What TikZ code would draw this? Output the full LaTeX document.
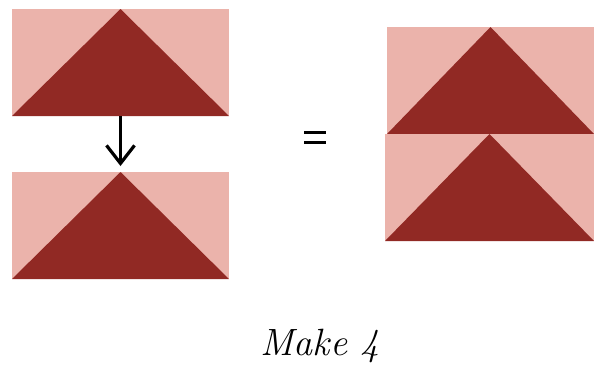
\documentclass[tikz,border=0pt]{standalone}
\usepackage{tikz}
\usetikzlibrary{arrows.meta}
\definecolor{hstdark}{RGB}{145,41,36}
\definecolor{hstlight}{RGB}{235,179,171}
\tikzset{
  hstblock/.style={rectangle,fill=hstlight,draw=none,inner sep=0pt,outer sep=0pt,
    minimum width=#1,minimum height=107pt},
  hstblock/.default=217pt,
  joinarrow/.style={line width=3.2pt,-{Straight Barb[length=18pt,width=28pt,line width=3.2pt]}},
  eqbar/.style={line width=3pt}
}
\begin{document}
\begin{tikzpicture}[x=1pt,y=-1pt]
\useasboundingbox(0,0)rectangle(594,365);
% the two units before they are sewn
\node[hstblock](upper)at(120.5,62.5){};
\fill[hstdark](upper.south west)--(upper.north)--(upper.south east)--cycle;
\node[hstblock](lower)at(120.5,225.5){};
\fill[hstdark](lower.south west)--(lower.north)--(lower.south east)--cycle;
\draw[joinarrow](upper.south)--([yshift=6pt]lower.north);
% equals sign
\draw[eqbar](304,132)--(326,132);
\draw[eqbar](304,142)--(326,142);
% sewn pair
\node[hstblock=207pt](rtop)at(490.5,80.5){};
\fill[hstdark](rtop.south west)--(rtop.north)--(rtop.south east)--cycle;
\node[hstblock=209pt](rbot)at(489.5,187.5){};
\fill[hstdark](rbot.south west)--(rbot.north)--(rbot.south east)--cycle;
\node(caption)at(320,346){\fontsize{38}{44}\selectfont\itshape Make 4};
\end{tikzpicture}
\end{document}
